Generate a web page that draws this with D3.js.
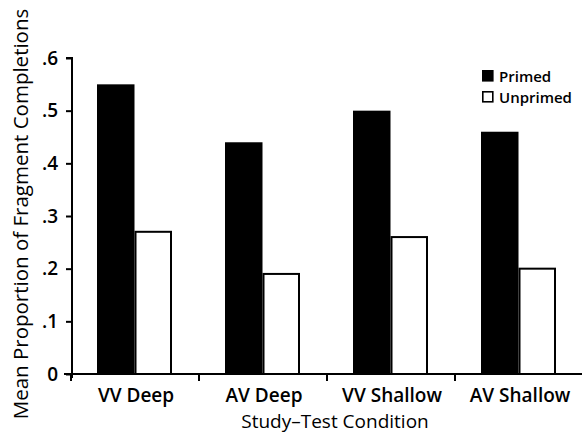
<!DOCTYPE html>
<html><head><meta charset="utf-8">
<script src="https://cdn.jsdelivr.net/npm/d3@7"></script>
<style>body{margin:0;background:#fff}svg{display:block}text{font-family:"Open Sans",sans-serif;fill:#000}</style>
</head><body><svg id="c" width="582" height="434"></svg>
<script>
const categories = ["VV Deep", "AV Deep", "VV Shallow", "AV Shallow"];
const series = ["Primed", "Unprimed"];
const primed = [0.55, 0.44, 0.50, 0.46];
const unprimed = [0.27, 0.19, 0.26, 0.20];
const yTicks = [0, 0.1, 0.2, 0.3, 0.4, 0.5, 0.6];
const yTickLabels = ["0", ".1", ".2", ".3", ".4", ".5", ".6"];

const svg = d3.select("#c");
const x0 = 72, y0 = 374;
const x = d3.scaleBand().domain(categories).range([x0, x0 + 128 * 4]).padding(0);
const xs = d3.scaleBand().domain(series).range([25, 100]).padding(0);
const y = d3.scaleLinear().domain([0, 0.6]).range([y0, 58]);

const data = categories.map((c, i) => ({cat: c, vals: [primed[i], unprimed[i]]}));
const g = svg.append("g");
data.forEach(d => {
  d.vals.forEach((v, j) => {
    const s = series[j];
    g.append("rect")
      .attr("x", x(d.cat) + xs(s) + (j ? 1 : 0))
      .attr("y", y(v))
      .attr("width", xs.bandwidth() - (j ? 2 : 0))
      .attr("height", y0 - y(v))
      .attr("fill", j ? "#fff" : "#000")
      .attr("stroke", "#000")
      .attr("stroke-width", j ? 2 : 0);
  });
});

// y axis
const ya = svg.append("g").attr("transform", `translate(${x0},0)`)
  .call(d3.axisLeft(y).tickValues(yTicks).tickFormat((d, i) => yTickLabels[i]).tickSize(6).tickPadding(8).tickSizeOuter(0));
ya.select(".domain").attr("stroke-width", 2).attr("d", `M0,${y0 + 4}V58H-6`);
ya.selectAll(".tick line").attr("stroke-width", 2);
ya.selectAll("text").style("font-size", "19px").style("font-weight", "600").style("font-family", '"Open Sans",sans-serif');

// x axis
const xa = svg.append("g").attr("transform", `translate(0,${y0})`)
  .call(d3.axisBottom(x).tickSize(0).tickPadding(14.5).tickSizeOuter(0));
xa.select(".domain").attr("stroke-width", 2).attr("d", `M64,0H582`);
xa.selectAll("text").style("font-size", "19px").style("font-weight", "600").style("font-family", '"Open Sans",sans-serif');
xa.selectAll(".sep").data(categories).enter().append("line")
  .attr("x1", d => x(d) - 1).attr("x2", d => x(d) - 1).attr("y1", 0).attr("y2", 7)
  .attr("stroke", "#000").attr("stroke-width", 2);

// titles
svg.append("text").attr("x", 335).attr("y", 428).attr("text-anchor", "middle")
  .style("font-size", "19px").style("font-weight", "500").text("Study\u2013Test Condition");
svg.append("text").attr("transform", "translate(28,214) rotate(-90)").attr("text-anchor", "middle")
  .style("font-size", "20.5px").style("font-weight", "500").text("Mean Proportion of Fragment Completions");

// legend
const lg = svg.append("g").attr("transform", "translate(482,70)");
series.forEach((s, i) => {
  lg.append("rect").attr("x", 0.8).attr("y", i * 21 + 0.8).attr("width", 10).attr("height", 10)
    .attr("fill", i ? "#fff" : "#000").attr("stroke", "#000").attr("stroke-width", 1.6);
  lg.append("text").attr("x", 17).attr("y", i * 21 + 11.5).style("font-size", "15px").style("font-weight", "600").text(s);
});
</script></body></html>
